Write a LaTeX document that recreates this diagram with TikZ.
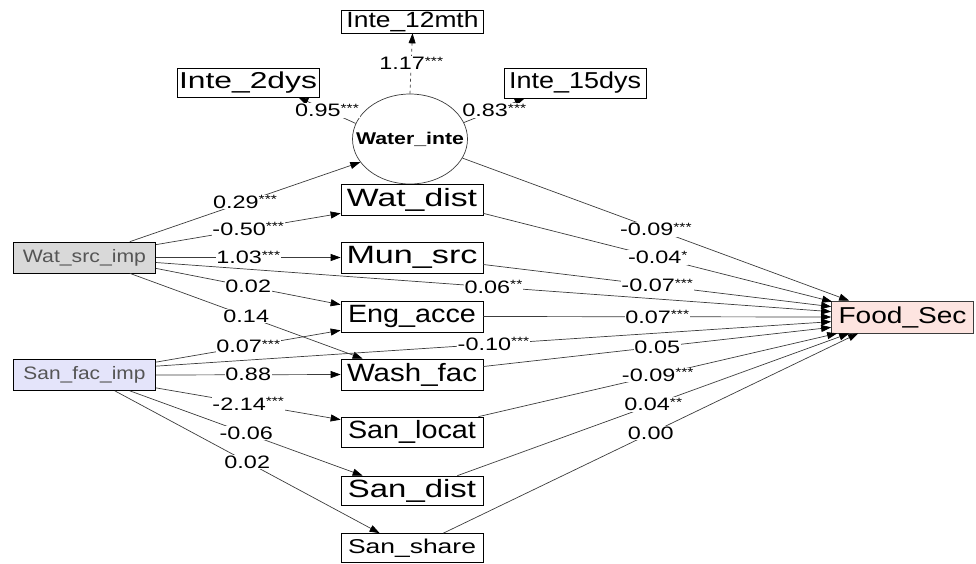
\documentclass[tikz,border=0pt]{standalone}
\usepackage{fontspec}
\setmainfont{Liberation Sans}
\usepackage{graphicx}
\usetikzlibrary{shapes.geometric,arrows.meta,calc}
\definecolor{srcgray}{RGB}{217,217,217}
\definecolor{faclav}{RGB}{228,228,250}
\definecolor{foodpink}{RGB}{253,228,224}
\definecolor{edgegray}{RGB}{60,60,60}
\definecolor{txtgray}{RGB}{85,85,85}
\newcommand{\fitw}[2]{\resizebox{#1}{\height}{#2}}
\newcommand{\coef}[2]{\scalebox{1.3}[1]{#1\raisebox{4.5pt}{\fontsize{12}{12}\selectfont #2}}}

\begin{document}
\begin{tikzpicture}[x=1pt,y=-1pt,
  obs/.style={draw, line width=0.7pt, rectangle, inner sep=0pt, minimum width=142pt, minimum height=31pt, font=\fontsize{25}{25}\selectfont},
  latent/.style={draw=edgegray, line width=0.7pt, ellipse, inner sep=0pt, minimum width=115pt, minimum height=90pt},
  reg/.style={draw=edgegray, line width=0.7pt, -{Triangle[length=10pt,width=7pt,color=black]}},
  coeflbl/.style={fill=white, inner sep=0.8pt, font=\fontsize{18}{18}\selectfont}]
  \useasboundingbox (0,0) rectangle (976,563);

  % Exogenous
  \node[obs, fill=srcgray, text=txtgray, font=\fontsize{18}{18}\selectfont] (wsrc) at (84.5,257.5) {\fitw{123pt}{Wat\_src\_imp}};
  \node[obs, fill=faclav, text=txtgray, font=\fontsize{18}{18}\selectfont] (sfac) at (84.5,375) {\fitw{122pt}{San\_fac\_imp}};

  % Latent and indicators
  \node[latent] (water) at (410,139) {};
  \node[font=\fontsize{17}{17}\selectfont\bfseries, inner sep=0pt] (waterlbl) at (water) {\fitw{108pt}{Water\_inte}};
  \node[obs, minimum height=23pt, font=\fontsize{22}{22}\selectfont] (i12) at (412.5,21.5) {\fitw{132pt}{Inte\_12mth}};
  \node[obs, minimum height=29pt, font=\fontsize{23}{23}\selectfont] (i2) at (248,82.5) {\fitw{138pt}{Inte\_2dys}};
  \node[obs, minimum height=30pt, font=\fontsize{23}{23}\selectfont] (i15) at (575,83) {\fitw{132pt}{Inte\_15dys}};

  % Mediators
  \node[obs] (wdist) at (412,199.5) {\fitw{130pt}{Wat\_dist}};
  \node[obs] (mun) at (412,257.5) {\fitw{131pt}{Mun\_src}};
  \node[obs] (eng) at (412,316.5) {\fitw{128pt}{Eng\_acce}};
  \node[obs] (wash) at (412,374.5) {\fitw{130pt}{Wash\_fac}};
  \node[obs, minimum height=30pt] (sloc) at (412,432) {\fitw{128pt}{San\_locat}};
  \node[obs, minimum height=29pt] (sdist) at (412,490.5) {\fitw{128pt}{San\_dist}};
  \node[obs, minimum height=29pt, font=\fontsize{20}{20}\selectfont] (sshare) at (412,548) {\fitw{128pt}{San\_share}};

  % Outcome
  \node[obs, draw=edgegray, fill=foodpink, minimum height=32pt, font=\fontsize{23}{23}\selectfont] (food) at (902.5,317) {\fitw{128pt}{Food\_Sec}};

  % Measurement paths
  \draw[reg, dashed] (water.north) -- node[coeflbl] {\coef{1.17}{***}} (i12.south);
  \draw[reg] (water.164) -- node[coeflbl] {\coef{0.95}{***}} ($(i2.south east)+(-21,0)$);
  \draw[reg] (water.17) -- node[coeflbl] {\coef{0.83}{***}} ($(i15.south west)+(21,0)$);

  % Paths from Wat_src_imp
  \draw[reg] ($(wsrc.north east)+(-26,0)$) -- node[coeflbl] {\coef{0.29}{***}} (water.205);
  \draw[reg] ($(wsrc.north east)+(0,3)$) -- node[coeflbl] {\coef{-0.50}{***}} ($(wdist.south west)+(0,-2)$);
  \draw[reg] (wsrc.east) -- node[coeflbl] {\coef{1.03}{***}} (mun.west);
  \draw[reg] ($(wsrc.east)+(0,5)$) -- node[coeflbl] {\coef{0.06}{**}} ($(food.north west)+(0,11)$);
  \draw[reg] ($(wsrc.south east)+(0,-5)$) -- node[coeflbl] {\coef{0.02}{}} ($(eng.north west)+(0,4)$);
  \draw[reg] ($(wsrc.south east)+(-26,0)$) -- node[coeflbl] {\coef{0.14}{}} ($(wash.north west)+(22,0)$);

  % Paths from San_fac_imp
  \draw[reg] ($(sfac.north east)+(0,3)$) -- node[coeflbl] {\coef{0.07}{***}} ($(eng.south west)+(0,-2)$);
  \draw[reg] ($(sfac.north east)+(0,7)$) -- node[coeflbl] {\coef{-0.10}{***}} ($(food.north west)+(0,21)$);
  \draw[reg] (sfac.east) -- node[coeflbl] {\coef{0.88}{}} (wash.west);
  \draw[reg] ($(sfac.south east)+(0,-3)$) -- node[coeflbl] {\coef{-2.14}{***}} ($(sloc.north west)+(0,3)$);
  \draw[reg] ($(sfac.south east)+(-26,0)$) -- node[coeflbl] {\coef{-0.06}{}} ($(sdist.north west)+(22,0)$);
  \draw[reg] ($(sfac.south east)+(-41,0)$) -- node[coeflbl] {\coef{0.02}{}} ($(sshare.north west)+(39,0)$);

  % Paths to Food_Sec
  \draw[reg] (water.-20) -- node[coeflbl] {\coef{-0.09}{***}} ($(food.north west)+(18,0)$);
  \draw[reg] ($(wdist.south east)+(0,-2)$) -- node[coeflbl] {\coef{-0.04}{*}} ($(food.north west)+(1,1)$);
  \draw[reg] ($(mun.east)+(0,7)$) -- node[coeflbl] {\coef{-0.07}{***}} ($(food.north west)+(0,6)$);
  \draw[reg] (eng.east) -- node[coeflbl] {\coef{0.07}{***}} (food.west);
  \draw[reg] ($(wash.east)+(0,-8)$) -- node[coeflbl] {\coef{0.05}{}} ($(food.south west)+(0,-6)$);
  \draw[reg] ($(sloc.north east)+(-5,0)$) -- node[coeflbl] {\coef{-0.09}{***}} ($(food.south west)+(6,0)$);
  \draw[reg] ($(sdist.north east)+(-26,0)$) -- node[coeflbl] {\coef{0.04}{**}} ($(food.south west)+(18,0)$);
  \draw[reg] ($(sshare.north east)+(-40,0)$) -- node[coeflbl] {\coef{0.00}{}} ($(food.south west)+(27,0)$);
\end{tikzpicture}
\end{document}
